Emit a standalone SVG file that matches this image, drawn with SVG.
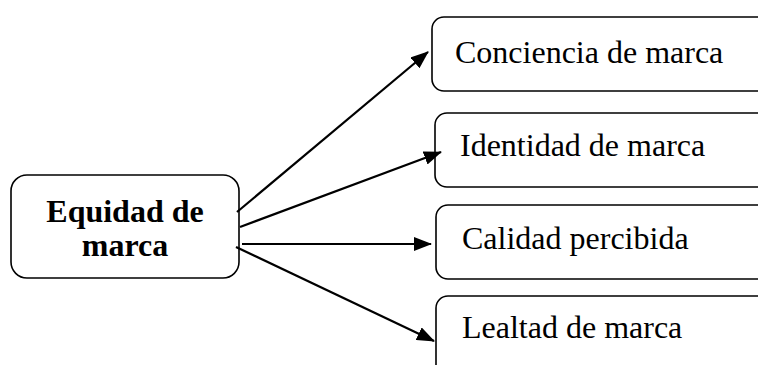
<svg xmlns="http://www.w3.org/2000/svg" width="758" height="365" viewBox="0 0 758 365">
<style>
.box{fill:#fff;stroke:#000;stroke-width:1.6}
.t{font-family:"Liberation Serif","Times New Roman",serif;font-size:32px;fill:#000}
.b{font-weight:bold;text-anchor:middle}
.c{stroke:#000;stroke-width:2.2;fill:none;marker-end:url(#ah)}
</style>
<defs>
<marker id="ah" markerWidth="18" markerHeight="14" refX="17" refY="7" orient="auto" markerUnits="userSpaceOnUse">
<path d="M0,0 L18,7 L0,14 Z" fill="#000"/>
</marker>
</defs>
<g id="n0">
<rect class="box" x="11" y="175" width="228" height="103" rx="16"/>
<text class="t b" x="125" y="222">Equidad de</text>
<text class="t b" x="125" y="256">marca</text>
</g>
<g id="n1">
<rect class="box" x="432" y="17" width="340" height="74" rx="12"/>
<text class="t" x="455" y="63">Conciencia de marca</text>
</g>
<g id="n2">
<rect class="box" x="435" y="113" width="340" height="74" rx="12"/>
<text class="t" x="460" y="156">Identidad de marca</text>
</g>
<g id="n3">
<rect class="box" x="436" y="205" width="340" height="74" rx="12"/>
<text class="t" x="462" y="249">Calidad percibida</text>
</g>
<g id="n4">
<rect class="box" x="436" y="296" width="340" height="90" rx="12"/>
<text class="t" x="462" y="338">Lealtad de marca</text>
</g>
<g id="connectors">
<line class="c" x1="237" y1="212" x2="428" y2="52"/>
<line class="c" x1="240" y1="227" x2="441" y2="152"/>
<line class="c" x1="242" y1="244" x2="431" y2="244"/>
<line class="c" x1="236" y1="247" x2="434" y2="341"/>
</g>
</svg>
